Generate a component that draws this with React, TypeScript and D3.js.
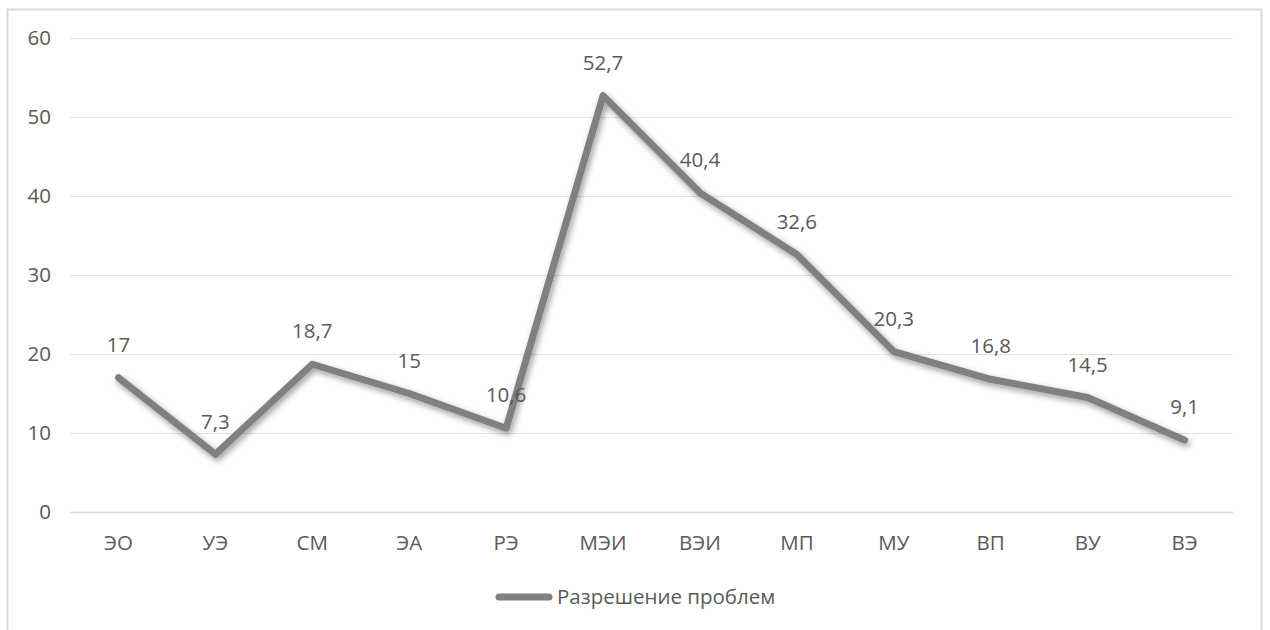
import React from "react";
import * as d3 from "d3";

const categories = ["ЭО", "УЭ", "СМ", "ЭА", "РЭ", "МЭИ", "ВЭИ", "МП", "МУ", "ВП", "ВУ", "ВЭ"];
const values = [17, 7.3, 18.7, 15, 10.6, 52.7, 40.4, 32.6, 20.3, 16.8, 14.5, 9.1];
const valueLabels = ["17", "7,3", "18,7", "15", "10,6", "52,7", "40,4", "32,6", "20,3", "16,8", "14,5", "9,1"];
const yTicks = [0, 10, 20, 30, 40, 50, 60];
const seriesName = "Разрешение проблем";

const W = 1270;
const H = 630;
const plot = { left: 70, right: 1233, top: 38, bottom: 512 };
const font = "'Open Sans', 'Liberation Sans', sans-serif";
const fontSize = 20.5;
const textColor = "#595959";

export default function App() {
  const x = d3
    .scaleBand<string>()
    .domain(categories)
    .range([plot.left, plot.right]);
  const y = d3.scaleLinear().domain([0, 60]).range([plot.bottom, plot.top]);
  const cx = (c: string) => (x(c) ?? 0) + x.bandwidth() / 2;

  const line = d3
    .line<number>()
    .x((_, i) => cx(categories[i]))
    .y((d) => y(d));
  const path = line(values) ?? "";

  return (
    <svg
      width={W}
      height={H}
      style={{ position: "absolute", left: 0, top: 0, background: "#fff" }}
      fontFamily={font}
    >
      <defs>
        <filter id="lineShadow" x="-10%" y="-10%" width="120%" height="130%">
          <feGaussianBlur in="SourceAlpha" stdDeviation="3" />
          <feOffset dx="2" dy="3" result="b" />
          <feComponentTransfer>
            <feFuncA type="linear" slope="0.4" />
          </feComponentTransfer>
          <feMerge>
            <feMergeNode />
            <feMergeNode in="SourceGraphic" />
          </feMerge>
        </filter>
      </defs>
      <rect x={0} y={0} width={W} height={H} fill="#fff" />
      {/* chart frame */}
      <rect x={7.5} y={9.5} width={1254} height={640} fill="none" stroke="#d9d9d9" strokeWidth={2} />

      {/* grid and y axis labels */}
      {yTicks.map((t) => (
        <g key={t}>
          <line
            x1={plot.left}
            x2={plot.right}
            y1={Math.round(y(t)) + 0.5}
            y2={Math.round(y(t)) + 0.5}
            stroke={t === 0 ? "#d9d9d9" : "#e3e3e3"}
            strokeWidth={t === 0 ? 1.5 : 1}
          />
          <text
            x={51}
            y={y(t)}
            dy="0.35em"
            textAnchor="end"
            fontSize={fontSize}
            fill={textColor}
          >
            {t}
          </text>
        </g>
      ))}

      {/* category labels */}
      {categories.map((c) => (
        <text
          key={c}
          x={cx(c)}
          y={543}
          dy="0.35em"
          textAnchor="middle"
          fontSize={fontSize}
          fill={textColor}
        >
          {c}
        </text>
      ))}

      {/* series line */}
      <path
        d={path}
        fill="none"
        stroke="#808080"
        strokeWidth={7}
        strokeLinejoin="round"
        strokeLinecap="round"
        filter="url(#lineShadow)"
      />

      {/* data labels */}
      {values.map((v, i) => (
        <text
          key={i}
          x={cx(categories[i])}
          y={y(v) - 33}
          dy="0.35em"
          textAnchor="middle"
          fontSize={fontSize}
          fill={textColor}
        >
          {valueLabels[i]}
        </text>
      ))}

      {/* legend */}
      <line x1={499} x2={549} y1={597} y2={597} stroke="#808080" strokeWidth={7} strokeLinecap="round" />
      <text x={557} y={597} dy="0.35em" fontSize={fontSize} fill={textColor}>
        {seriesName}
      </text>
    </svg>
  );
}
